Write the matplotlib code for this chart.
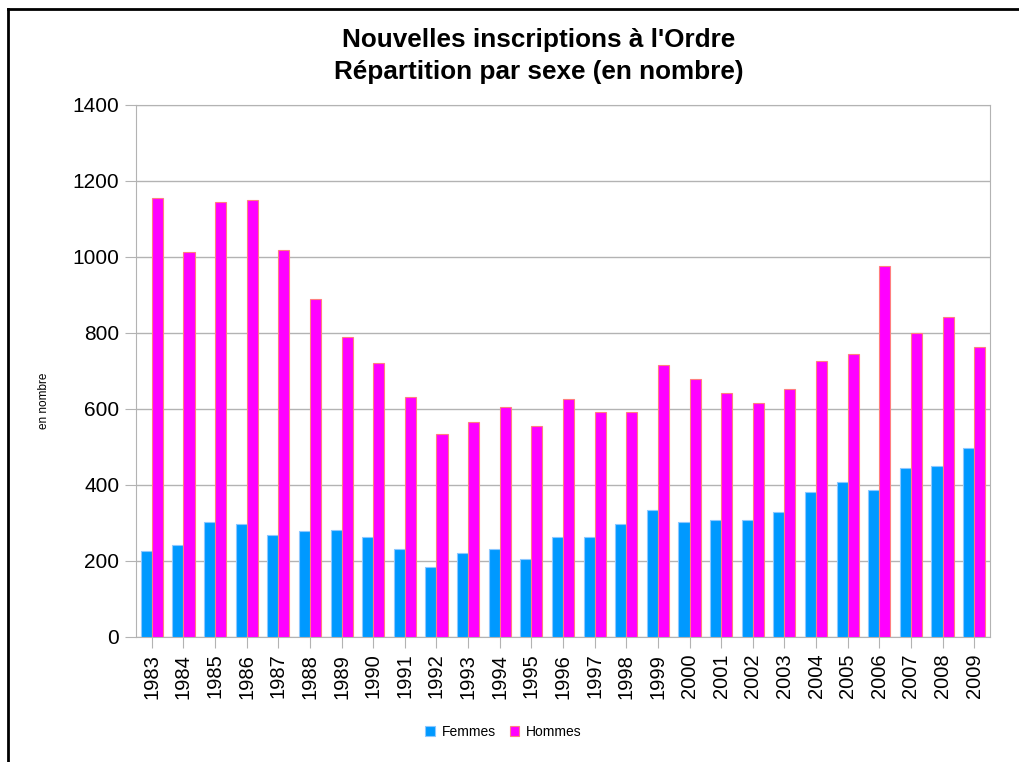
import numpy as np
import matplotlib.pyplot as plt
from matplotlib.lines import Line2D

plt.rcParams['font.family'] = ['Liberation Sans', 'DejaVu Sans']

# Data
years = [str(y) for y in range(1983, 2010)]
femmes = [226, 242, 303, 298, 268, 278, 282, 262, 231, 183, 220, 231, 204, 262,
          262, 298, 334, 303, 308, 308, 329, 381, 407, 387, 444, 449, 497]
hommes = [1154, 1013, 1144, 1149, 1018, 889, 789, 720, 632, 533, 565, 606, 554, 627,
          592, 592, 716, 679, 643, 617, 653, 726, 746, 977, 799, 841, 762]

fig = plt.figure(figsize=(10.19, 7.62), dpi=100)
ax = fig.add_axes([136 / 1019, 125 / 762, 854 / 1019, 532 / 762])

x = np.arange(len(years))
w = 0.35
ax.bar(x - w / 2, femmes, w, color='#0099ff', edgecolor='#8cc8ff', linewidth=0.8,
       label='Femmes', zorder=3)
ax.bar(x + w / 2, hommes, w, color='#ff00ff', edgecolor='#ff7f7f', linewidth=0.8,
       label='Hommes', zorder=3)

ax.set_xlim(-0.5, len(years) - 0.5)
ax.set_ylim(0, 1400)
ax.set_yticks(range(0, 1401, 200))
ax.set_xticks(x)
ax.set_xticklabels(years, rotation=90, fontsize=14.5)
ax.tick_params(axis='y', labelsize=15, length=8, color='#b3b3b3', pad=4)
ax.tick_params(axis='x', length=8, color='#b3b3b3', pad=4)
ax.grid(axis='y', color='#b3b3b3', linewidth=1, zorder=0)
for s in ax.spines.values():
    s.set_color('#b3b3b3')
ax.set_ylabel('en nombre', fontsize=8.5)
ax.yaxis.set_label_coords(-0.101, 0.444)

fig.text(0.529, 0.947, "Nouvelles inscriptions à l'Ordre", ha='center', va='center',
         fontsize=18.8, fontweight='bold')
fig.text(0.529, 0.905, 'Répartition par sexe (en nombre)', ha='center', va='center',
         fontsize=18.8, fontweight='bold')

fig.legend(loc='center', bbox_to_anchor=(0.494, 0.040), ncol=2, fontsize=10,
           frameon=False, handlelength=0.7, handleheight=0.7, columnspacing=1.0,
           handletextpad=0.5)

# Outer frame (left and top edges visible)
fig.add_artist(Line2D([8 / 1019, 8 / 1019], [0, 1 - 8.5 / 762], color='black', lw=2))
fig.add_artist(Line2D([8 / 1019, 1], [1 - 8.5 / 762, 1 - 8.5 / 762], color='black', lw=2))

fig.savefig('out.png', dpi=100)
